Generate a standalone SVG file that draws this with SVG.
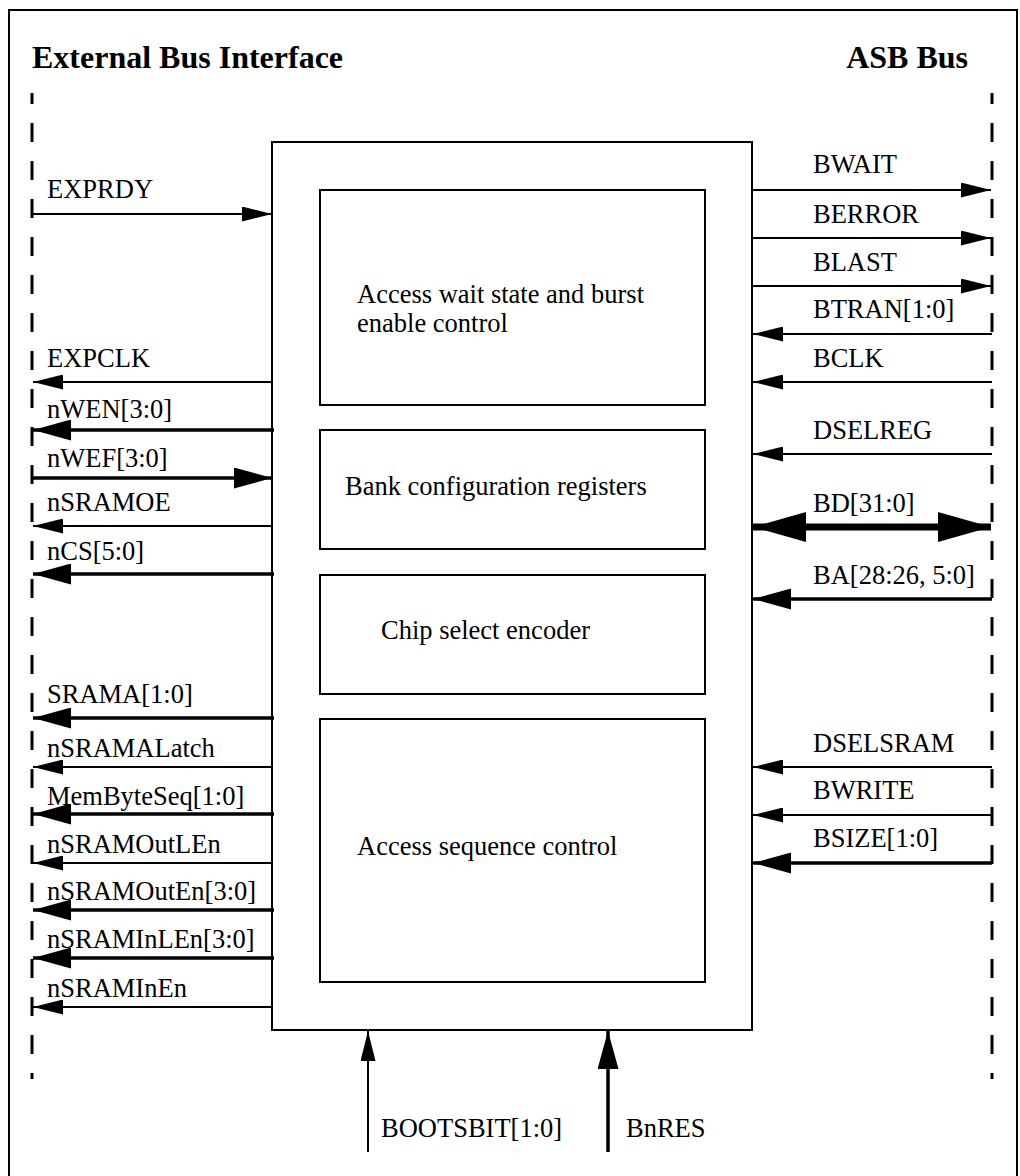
<svg xmlns="http://www.w3.org/2000/svg" width="1020" height="1176" viewBox="0 0 1020 1176">
<style>
.frame{fill:none;stroke:#000;stroke-width:2}
.box{fill:none;stroke:#000;stroke-width:2}
.bus{fill:none;stroke:#000;stroke-width:3;stroke-dasharray:19 19}
.t{font-family:"Liberation Serif","Times New Roman",serif;font-size:26.5px;fill:#000}
.title{font-family:"Liberation Serif","Times New Roman",serif;font-size:32px;font-weight:bold;fill:#000}
.w1{stroke:#000;stroke-width:2;fill:none;marker-end:url(#a1)}
.w2{stroke:#000;stroke-width:3.5;fill:none;marker-end:url(#a2)}
.w3{stroke:#000;stroke-width:7;fill:none;marker-end:url(#a3);marker-start:url(#a3)}
</style>
<defs>
<marker id="a1" markerUnits="userSpaceOnUse" viewBox="0 0 30 15" markerWidth="30" markerHeight="15" refX="30" refY="7.5" orient="auto-start-reverse"><path d="M0,0 L30,7.5 L0,15 z" fill="#000"/></marker>
<marker id="a2" markerUnits="userSpaceOnUse" viewBox="0 0 38 21" markerWidth="38" markerHeight="21" refX="38" refY="10.5" orient="auto-start-reverse"><path d="M0,0 L38,10.5 L0,21 z" fill="#000"/></marker>
<marker id="a3" markerUnits="userSpaceOnUse" viewBox="0 0 53 30" markerWidth="53" markerHeight="30" refX="53" refY="15" orient="auto-start-reverse"><path d="M0,0 L53,15 L0,30 z" fill="#000"/></marker>
</defs>
<rect x="9" y="10" width="1008" height="1175" class="frame"/>
<text class="title" x="32" y="68">External Bus Interface</text>
<text class="title" x="968" y="68" text-anchor="end">ASB Bus</text>
<line class="bus" x1="32" y1="93" x2="32" y2="1079" stroke-dashoffset="8"/>
<line class="bus" x1="992" y1="93" x2="992" y2="1079" stroke-dashoffset="8"/>

<g id="main-block">
<rect x="272" y="142" width="480" height="888" class="box"/>
</g>
<g id="access-wait">
<rect x="320" y="190" width="385" height="215" class="box"/>
<text class="t" x="357" y="303">Access wait state and burst</text>
<text class="t" x="357" y="332">enable control</text>
</g>
<g id="bank-config">
<rect x="320" y="430" width="385" height="119" class="box"/>
<text class="t" x="345" y="495">Bank configuration registers</text>
</g>
<g id="chip-select">
<rect x="320" y="575" width="385" height="119" class="box"/>
<text class="t" x="381" y="639">Chip select encoder</text>
</g>
<g id="access-seq">
<rect x="320" y="719" width="385" height="263" class="box"/>
<text class="t" x="357" y="855">Access sequence control</text>
</g>

<g id="connectors">
<line class="w1" x1="33" y1="214" x2="272" y2="214"/>
<line class="w1" x1="272" y1="382" x2="33" y2="382"/>
<line class="w2" x1="274" y1="430" x2="33" y2="430"/>
<line class="w2" x1="33" y1="478" x2="272" y2="478"/>
<line class="w1" x1="272" y1="526" x2="33" y2="526"/>
<line class="w2" x1="274" y1="574" x2="33" y2="574"/>
<line class="w2" x1="274" y1="718" x2="33" y2="718"/>
<line class="w1" x1="272" y1="767" x2="33" y2="767"/>
<line class="w2" x1="274" y1="814" x2="33" y2="814"/>
<line class="w1" x1="272" y1="863" x2="33" y2="863"/>
<line class="w2" x1="274" y1="910" x2="33" y2="910"/>
<line class="w2" x1="274" y1="958" x2="33" y2="958"/>
<line class="w1" x1="272" y1="1007" x2="33" y2="1007"/>

<line class="w1" x1="752" y1="190" x2="991" y2="190"/>
<line class="w1" x1="752" y1="238" x2="991" y2="238"/>
<line class="w1" x1="752" y1="286" x2="991" y2="286"/>
<line class="w1" x1="992" y1="334" x2="753" y2="334"/>
<line class="w1" x1="992" y1="382" x2="753" y2="382"/>
<line class="w1" x1="992" y1="454" x2="753" y2="454"/>
<line class="w3" x1="753" y1="527" x2="991" y2="527"/>
<line class="w2" x1="992" y1="599" x2="753" y2="599"/>
<line class="w1" x1="992" y1="767" x2="753" y2="767"/>
<line class="w1" x1="992" y1="815" x2="753" y2="815"/>
<line class="w2" x1="992" y1="863" x2="753" y2="863"/>

<line class="w1" x1="368" y1="1152" x2="368" y2="1031"/>
<line class="w2" x1="608" y1="1152" x2="608" y2="1031"/>
</g>

<g id="labels">
<text class="t" x="47" y="198">EXPRDY</text>
<text class="t" x="47" y="367">EXPCLK</text>
<text class="t" x="47" y="418">nWEN[3:0]</text>
<text class="t" x="47" y="467">nWEF[3:0]</text>
<text class="t" x="47" y="511">nSRAMOE</text>
<text class="t" x="47" y="560">nCS[5:0]</text>
<text class="t" x="47" y="703">SRAMA[1:0]</text>
<text class="t" x="47" y="757">nSRAMALatch</text>
<text class="t" x="47" y="805">MemByteSeq[1:0]</text>
<text class="t" x="47" y="853">nSRAMOutLEn</text>
<text class="t" x="47" y="900">nSRAMOutEn[3:0]</text>
<text class="t" x="47" y="948">nSRAMInLEn[3:0]</text>
<text class="t" x="47" y="997">nSRAMInEn</text>

<text class="t" x="813" y="173">BWAIT</text>
<text class="t" x="813" y="223">BERROR</text>
<text class="t" x="813" y="271">BLAST</text>
<text class="t" x="813" y="318">BTRAN[1:0]</text>
<text class="t" x="813" y="367">BCLK</text>
<text class="t" x="813" y="439">DSELREG</text>
<text class="t" x="813" y="512">BD[31:0]</text>
<text class="t" x="813" y="584">BA[28:26, 5:0]</text>
<text class="t" x="813" y="752">DSELSRAM</text>
<text class="t" x="813" y="799">BWRITE</text>
<text class="t" x="813" y="847">BSIZE[1:0]</text>

<text class="t" x="381" y="1137">BOOTSBIT[1:0]</text>
<text class="t" x="626" y="1137">BnRES</text>
</g>
</svg>
